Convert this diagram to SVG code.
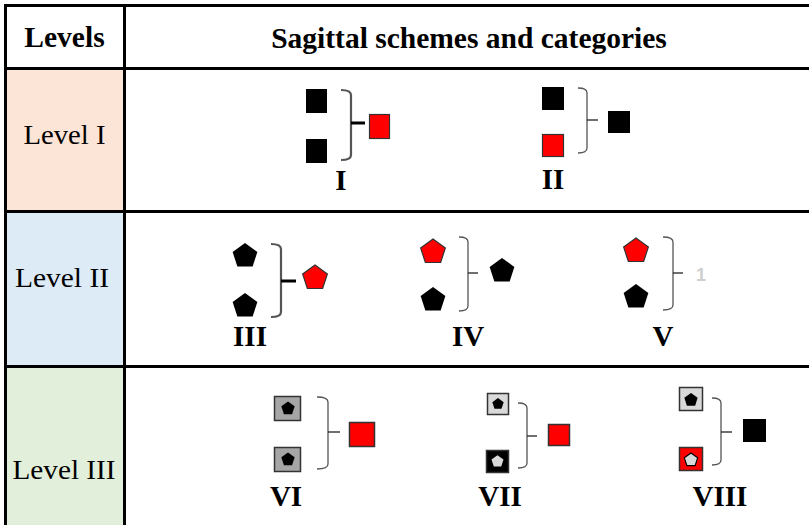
<svg xmlns="http://www.w3.org/2000/svg" width="809" height="525" viewBox="0 0 809 525">
<style>
.grid{stroke:#000;stroke-width:3;fill:none}
.hdr{font-family:"Liberation Serif","Times New Roman",serif;font-weight:bold;font-size:29.5px;fill:#000;text-anchor:middle}
.lvl{font-family:"Liberation Serif","Times New Roman",serif;font-size:27px;fill:#000;text-anchor:middle}
.num{font-family:"Liberation Serif","Times New Roman",serif;font-weight:bold;font-size:29px;fill:#000;text-anchor:middle}
.blk{fill:#000}
.red{fill:#ff0000;stroke:#333;stroke-width:1.2}
.br{fill:none;stroke:#555;stroke-width:1.3}
.brk{fill:none;stroke:#555;stroke-width:2.2}
.tk{stroke:#222;stroke-width:1.3}
.tkk{stroke:#000;stroke-width:3}
.gsq{fill:#a6a6a6;stroke:#333;stroke-width:1.5}
.lsq{fill:#d9d9d9;stroke:#333;stroke-width:1.5}
.bsq{fill:#000;stroke:#333;stroke-width:1.5}
.rsq{fill:#ff0000;stroke:#333;stroke-width:1.5}
.lpent{fill:#d9d9d9;stroke:#000;stroke-width:1.2}
</style>
<defs>
<path id="pent" d="M0,-13 L12.36,-4.02 L7.64,10.52 L-7.64,10.52 L-12.36,-4.02 Z"/>
<path id="pents" d="M0,-7 L6.66,-2.16 L4.11,5.66 L-4.11,5.66 L-6.66,-2.16 Z"/>
</defs>
<rect width="809" height="525" fill="#fff"/>
<g id="cells">
<rect x="7" y="70" width="116" height="140" fill="#fce4d6"/>
<rect x="7" y="213" width="116" height="152" fill="#ddebf7"/>
<rect x="7" y="368" width="116" height="157" fill="#e2efda"/>
</g>
<g id="gridlines">
<path class="grid" d="M4 5.5H809M5.5 4V525M124.5 4V525M4 68.5H809M4 211.5H809M4 366.5H809"/>
</g>
<g id="header">
<text class="hdr" x="64.5" y="47">Levels</text>
<text class="hdr" x="469" y="48">Sagittal schemes and categories</text>
</g>
<g id="level-labels">
<text class="lvl" x="64.5" y="144" textLength="82" lengthAdjust="spacingAndGlyphs">Level I</text>
<text class="lvl" x="62" y="287" textLength="94" lengthAdjust="spacingAndGlyphs">Level II</text>
<text class="lvl" x="64" y="479" textLength="103" lengthAdjust="spacingAndGlyphs">Level III</text>
</g>
<g id="connectors">
<path class="brk" d="M341 90Q351 90 351 95V155Q351 160 341 160"/><path class="tkk" d="M351 123H365"/>
<path class="br" d="M578 88Q587 88 587 93V148Q587 153 578 153"/><path class="tk" d="M587 120H598"/>
<path class="brk" d="M271 244Q281 244 281 249V312Q281 317 271 317"/><path class="tkk" d="M281 281H296"/>
<path class="br" d="M459 237Q468 237 468 242V306Q468 311 459 311"/><path class="tk" d="M468 273H478"/>
<path class="br" d="M663 237Q673 237 673 242V305Q673 310 663 310"/><path class="tk" d="M673 273H683"/>
<path class="br" d="M317 397Q328 397 328 402V464Q328 469 317 469"/><path class="tk" d="M328 432H340"/>
<path class="br" d="M518 403Q527 403 527 408V463Q527 468 518 468"/><path class="tk" d="M527 436H537"/>
<path class="br" d="M712 398Q721 398 721 403V460Q721 465 712 465"/><path class="tk" d="M721 432H732"/>
</g>
<g id="scheme-I">
<rect class="blk" x="306" y="89" width="21" height="24"/>
<rect class="blk" x="306" y="139" width="21" height="24"/>
<rect class="red" x="369.5" y="114.5" width="20" height="24"/>
<text class="num" x="341" y="190">I</text>
</g>
<g id="scheme-II">
<rect class="blk" x="542" y="87" width="22" height="23"/>
<rect class="red" x="542.5" y="134.5" width="21" height="22"/>
<rect class="blk" x="608" y="111" width="22" height="22"/>
<text class="num" x="553" y="189">II</text>
</g>
<g id="scheme-III">
<use href="#pent" class="blk" x="245" y="256"/>
<use href="#pent" class="blk" x="245" y="306"/>
<use href="#pent" class="red" x="315" y="278"/>
<text class="num" x="250" y="346">III</text>
</g>
<g id="scheme-IV">
<use href="#pent" class="red" x="433" y="252"/>
<use href="#pent" class="blk" x="433" y="300"/>
<use href="#pent" class="blk" x="502" y="271"/>
<text class="num" x="468" y="346">IV</text>
</g>
<g id="scheme-V">
<use href="#pent" class="red" x="636" y="251"/>
<use href="#pent" class="blk" x="636" y="297"/>
<text x="701" y="281" font-family="'Liberation Sans',Arial,sans-serif" font-weight="bold" font-size="18" fill="#cfcfcf" text-anchor="middle">1</text>
<text class="num" x="663" y="346">V</text>
</g>
<g id="scheme-VI">
<rect class="gsq" x="274.5" y="396.5" width="26" height="24"/>
<use href="#pents" class="blk" x="288" y="408.5"/>
<rect class="gsq" x="274.5" y="447.5" width="26" height="24"/>
<use href="#pents" class="blk" x="288" y="459.5"/>
<rect class="rsq" x="349.5" y="422.5" width="25" height="24"/>
<text class="num" x="286" y="506">VI</text>
</g>
<g id="scheme-VII">
<rect class="lsq" x="487.5" y="393.5" width="21" height="21"/>
<use href="#pents" class="blk" x="498" y="404" transform="translate(498 404) scale(0.85) translate(-498 -404)"/>
<rect class="bsq" x="486.5" y="450.5" width="22" height="22"/>
<use href="#pents" fill="#d9d9d9" x="497.5" y="461.5" transform="translate(497.5 461.5) scale(0.9) translate(-497.5 -461.5)"/>
<rect class="rsq" x="548.5" y="424.5" width="21" height="21"/>
<text class="num" x="500" y="506">VII</text>
</g>
<g id="scheme-VIII">
<rect class="lsq" x="679.5" y="387.5" width="23" height="23"/>
<use href="#pents" class="blk" x="691" y="400"/>
<rect class="rsq" x="679.5" y="447.5" width="23" height="23"/>
<use href="#pents" class="lpent" x="691" y="460"/>
<rect class="blk" x="743" y="419" width="23" height="23"/>
<text class="num" x="720" y="506">VIII</text>
</g>
</svg>
